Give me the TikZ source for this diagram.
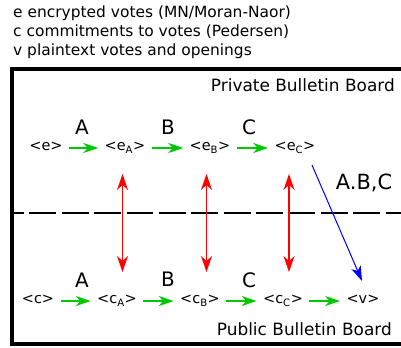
\documentclass[tikz,border=0pt]{standalone}
\usepackage{fontspec}
\setmainfont{DejaVu Sans}
\usetikzlibrary{arrows.meta}
\definecolor{flowgreen}{RGB}{0,200,0}
\definecolor{linkred}{RGB}{255,0,0}
\definecolor{tallyblue}{RGB}{0,0,255}
\tikzset{
  item/.style={inner sep=0pt, outer sep=6.5pt, font=\fontsize{14.5}{16}\selectfont,
               text height=10pt, text depth=4pt},
  stage/.style={inner sep=0pt, font=\fontsize{20}{22}\selectfont},
  legend/.style={inner sep=0pt, anchor=base west, font=\fontsize{15.5}{18}\selectfont},
  board/.style={inner sep=0pt, anchor=base east, font=\fontsize{17}{19}\selectfont},
  flow/.style={flowgreen, line width=1.8pt,
               -{Stealth[length=15pt, width=10pt, inset=4.5pt]}},
  link/.style={linkred, line width=1.4pt,
               {Stealth[length=16pt, width=11pt, inset=5pt]}-{Stealth[length=16pt, width=11pt, inset=5pt]}},
  tally/.style={tallyblue, line width=1pt,
                -{Stealth[length=15pt, width=10pt, inset=4pt]}},
}
\begin{document}
\begin{tikzpicture}[x=1bp, y=-1bp]
\useasboundingbox (0,0) rectangle (401,348);

% legend
\node[legend] (l1) at (13,17) {e encrypted votes (MN/Moran-Naor)};
\node[legend] (l2) at (13,36) {c commitments to votes (Pedersen)};
\node[legend] (l3) at (13,55) {v plaintext votes and openings};

% boards frame and divider
\draw[line width=4pt] (401,69) -- (12,69) -- (12,344) -- (401,344);
\draw[line width=2.5pt, dash pattern=on 27pt off 5.5pt, dash phase=15pt] (12,213) -- (401,213);

\node[board] (priv) at (395,91) {Private Bulletin Board};
\node[board] (pub) at (392,335) {Public Bulletin Board};

% encrypted chain
\node[item] (e)  at (46,148)  {<e>};
\node[item] (eA) at (125,148) {<e\textsubscript{A}>};
\node[item] (eB) at (210,148) {<e\textsubscript{B}>};
\node[item] (eC) at (295,148) {<e\textsubscript{C}>};
\draw[flow] (e) -- (eA);
\draw[flow] (eA) -- (eB);
\draw[flow] (eB) -- (eC);
\node[stage] (tA) at (82,127)  {A};
\node[stage] (tB) at (168,127) {B};
\node[stage] (tC) at (249,127) {C};

% commitment chain
\node[item] (c)  at (38,301)  {<c>};
\node[item] (cA) at (117,301) {<c\textsubscript{A}>};
\node[item] (cB) at (200,301) {<c\textsubscript{B}>};
\node[item] (cC) at (283,301) {<c\textsubscript{C}>};
\node[item] (v)  at (363,301) {<v>};
\draw[flow] (c) -- (cA);
\draw[flow] (cA) -- (cB);
\draw[flow] (cB) -- (cC);
\draw[flow] (cC) -- (v);
\node[stage] (bA) at (82,280)  {A};
\node[stage] (bB) at (168,279) {B};
\node[stage] (bC) at (249,280) {C};

% correspondences between the boards
\coordinate (r1t) at (122.5,174); \coordinate (r1b) at (122.5,272);
\coordinate (r2t) at (206.5,174); \coordinate (r2b) at (206.5,272);
\coordinate (r3t) at (289,174); \coordinate (r3b) at (289,272);
\draw[link] (r1t) -- (r1b);
\draw[link] (r2t) -- (r2b);
\draw[link] (r3t) -- (r3b);

% tally path
\coordinate (bs) at (312,165);
\coordinate (bt) at (362,281);
\draw[tally] (bs) -- (bt);
\node[stage, anchor=base, font=\fontsize{21}{24}\selectfont] (abc) at (364,189) {A.B,C};
\end{tikzpicture}
\end{document}
